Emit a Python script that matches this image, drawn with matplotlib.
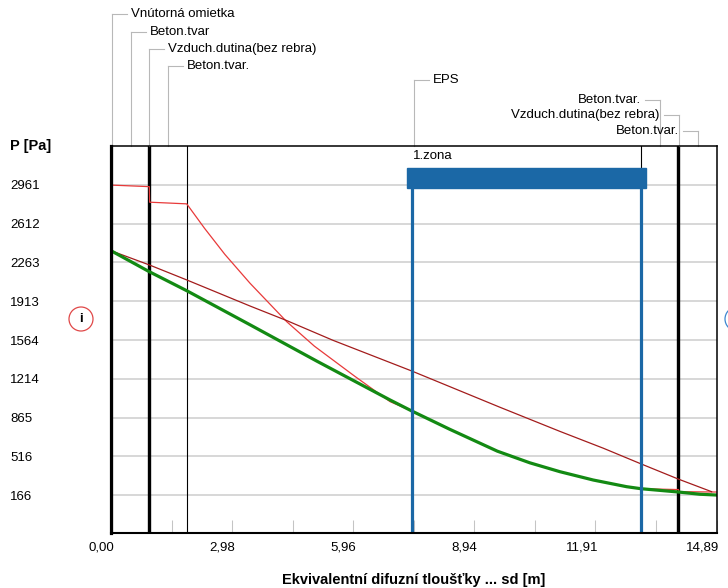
import numpy as np
import matplotlib.pyplot as plt
import matplotlib.transforms as mtransforms
from matplotlib.patches import Circle, Rectangle

plt.rcParams['font.family'] = ['Liberation Sans', 'DejaVu Sans']

# vrstvy konstrukce (hranice v sd [m])
layer_names = ['Vnútorná omietka', 'Beton.tvar', 'Vzduch.dutina(bez rebra)', 'Beton.tvar.',
               'EPS', 'Beton.tvar.', 'Vzduch.dutina(bez rebra)', 'Beton.tvar.']
layer_bounds = [0.0, 0.03, 0.942, 0.95, 1.862, 13.03, 13.955, 13.965, 14.89]
air_layers = [2, 6]

# kondenzacni zona
zone_label = '1.zona'
zone_start = 7.395
zone_end = 13.03

# nasyceny tlak vodni pary
sd_sat = [0.0, 0.942, 0.95, 1.862, 2.3, 2.8, 3.419, 4.321, 5.0, 6.0, 6.862, 7.395, 8.33,
          9.5, 10.3, 11.04, 11.86, 12.68, 13.03, 13.955, 13.965, 14.89]
p_sat = [2960, 2946, 2806, 2791, 2571, 2336, 2076, 1730, 1510, 1237, 1010, 926, 761,
         564, 459, 379, 304, 244, 226, 218, 199, 196]

# castecny tlak (bez kondenzace)
sd_lin = [0.0, 0.942, 1.862, 3.419, 4.321, 5.46, 7.395, 9.56, 11.04, 12.11, 13.03, 13.955, 14.77]
p_lin = [2369, 2241, 2106, 1871, 1740, 1562, 1286, 960, 742, 590, 450, 312, 199]

# skutecny castecny tlak
sd_real = [0.0, 0.942, 1.862, 3.419, 5.06, 6.862, 7.395, 8.33, 9.5, 10.3, 11.04, 11.86,
           12.68, 13.03, 13.4, 13.955, 14.48, 14.89]
p_real = [2369, 2180, 2009, 1702, 1375, 1025, 926, 761, 564, 459, 379, 304,
          244, 226, 214, 196, 176, 169]

y_ticks = [166, 516, 865, 1214, 1564, 1913, 2263, 2612, 2961]
x_ticks = [0.0, 1.489, 2.978, 4.467, 5.956, 7.445, 8.934, 10.423, 11.912, 13.401, 14.89]
x_labels = ['0,00', '', '2,98', '', '5,96', '', '8,94', '', '11,91', '', '14,89']

fig = plt.figure(figsize=(7.28, 5.88), dpi=100)
ax = fig.add_axes([111 / 728, 55 / 588, 605.5 / 728, 387 / 588])
ax.set_xlim(0, 14.89)
ax.set_ylim(-173, 3312)

# osy
ax.set_yticks(y_ticks)
ax.set_yticklabels([str(v) for v in y_ticks], fontsize=9.5)
ax.tick_params(axis='y', length=0, pad=72.5)
for lab in ax.get_yticklabels():
    lab.set_horizontalalignment('left')
ax.grid(axis='y', color='#d4d4d4', lw=1.3, zorder=0)
ax.set_axisbelow(True)

ax.set_xticks(x_ticks)
ax.set_xticklabels(x_labels, fontsize=9.5)
ax.tick_params(axis='x', direction='in', length=9.5, width=0.75, color='#c4c4c4', pad=6)
shift = mtransforms.ScaledTranslation(3 / 100, 0, fig.dpi_scale_trans)
for lab in ax.get_xticklabels():
    lab.set_horizontalalignment('right')
    lab.set_transform(lab.get_transform() + shift)

for side, w in [('left', 2.3), ('bottom', 1.5), ('top', 1.1), ('right', 1.1)]:
    ax.spines[side].set_linewidth(w)
    ax.spines[side].set_zorder(6)

# hranice vrstev
for i, b in enumerate(layer_bounds[1:-1], start=1):
    thick = (i - 1) in air_layers or i in air_layers
    ax.axvline(b, color='black', lw=1.7 if thick else 0.8, zorder=2)

# krivky
ax.plot(sd_sat, p_sat, color='#e83a3a', lw=0.9, zorder=3)
ax.plot(sd_lin, p_lin, color='#a31c1c', lw=0.9, zorder=3)
ax.plot(sd_real, p_real, color='#138a13', lw=2.3, zorder=4)

# kondenzacni zona
btrans = mtransforms.blended_transform_factory(ax.transData, ax.transAxes)
for z in [zone_start, zone_end]:
    ax.plot([z, z], [0, 0.891], transform=btrans, color='#1b68a6', lw=2.3, zorder=5,
            solid_capstyle='butt')
ax.add_patch(Rectangle((zone_start - 0.12, 0.891), zone_end - zone_start + 0.24, 0.052,
                       transform=btrans, color='#1b68a6', zorder=5))
ax.text(zone_start + 0.02, 0.974, zone_label, transform=btrans, fontsize=9.5, va='center')

# popisky vrstev
label_levels = [1.341, 1.294, 1.250, 1.2075, 1.1705, 1.1189, 1.0801, 1.0395]
seg = 15 / 40.66
gap = 19 / 40.66
for i, name in enumerate(layer_names):
    mid = (layer_bounds[i] + layer_bounds[i + 1]) / 2
    lev = label_levels[i]
    ax.plot([mid, mid], [1.0, lev], transform=btrans, color='#b8b8b8', lw=0.8, clip_on=False)
    if i < 5:
        ax.plot([mid, mid + seg], [lev, lev], transform=btrans, color='#b8b8b8', lw=0.8, clip_on=False)
        ax.text(mid + gap, lev, name, transform=btrans, fontsize=9.5, va='center', ha='left')
    else:
        ax.plot([mid - seg, mid], [lev, lev], transform=btrans, color='#b8b8b8', lw=0.8, clip_on=False)
        ax.text(mid - gap, lev, name, transform=btrans, fontsize=9.5, va='center', ha='right')

# nazvy os
fig.text(10 / 728, 1 - 146 / 588, 'P [Pa]', fontsize=10.5, fontweight='bold', va='center', ha='left')
ax.set_xlabel('Ekvivalentní difuzní tloušťky ... sd [m]', fontsize=10.5, fontweight='bold', labelpad=14)

# znacky interier / exterier
fig.patches.append(Circle((0.81, 5.88 - 3.19), 0.12, transform=fig.dpi_scale_trans,
                          fill=False, ec='#e04848', lw=0.9))
fig.text(0.81 / 7.28, (5.88 - 3.19) / 5.88, 'i', fontsize=9.5, fontweight='bold', ha='center', va='center')
fig.patches.append(Circle((7.37, 5.88 - 3.19), 0.12, transform=fig.dpi_scale_trans,
                          fill=False, ec='#3c86d0', lw=0.9))

fig.savefig('out.png', dpi=100)
